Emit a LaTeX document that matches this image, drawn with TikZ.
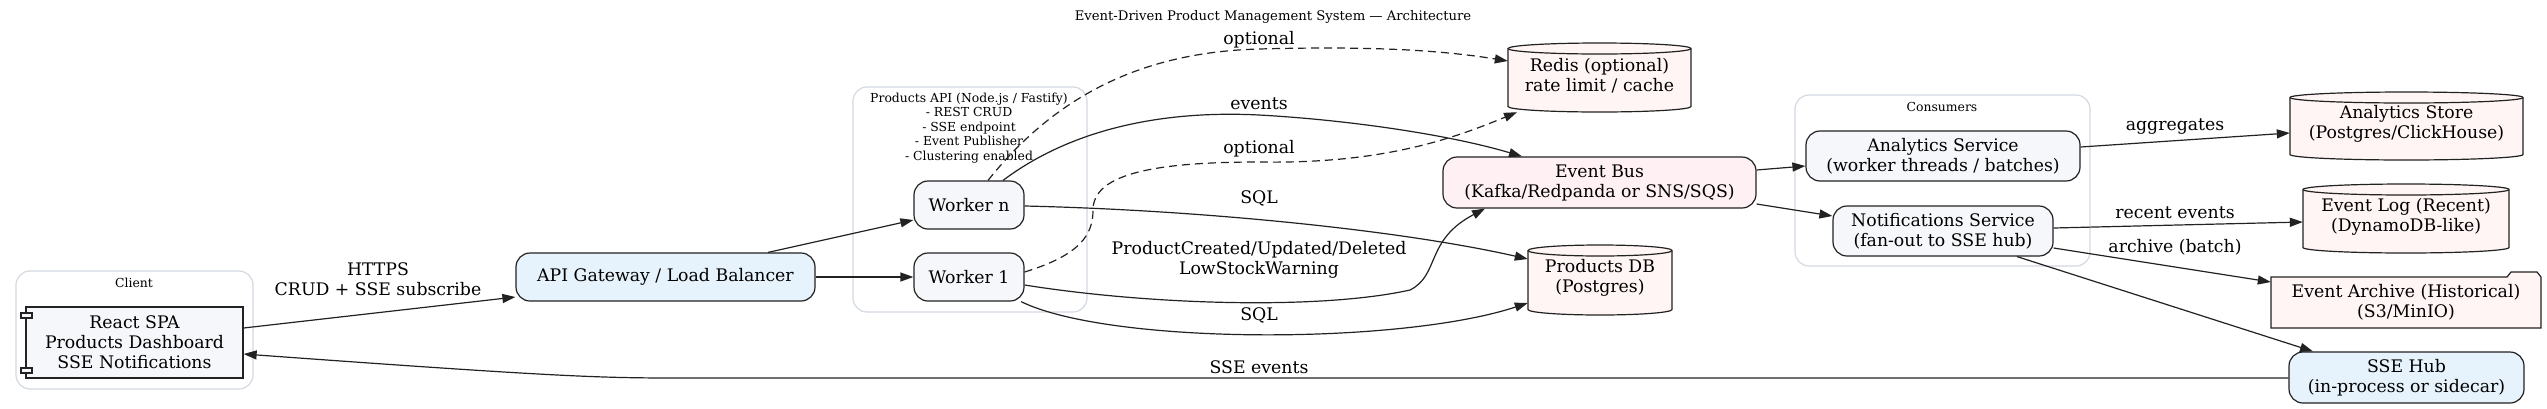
\documentclass[tikz,border=0pt]{standalone}
\usepackage{fontspec}
\setmainfont{DejaVu Serif}
\usetikzlibrary{arrows.meta}
\definecolor{bluefill}{HTML}{E7F3FC}
\definecolor{grayfill}{HTML}{F5F7FA}
\definecolor{busfill}{HTML}{FFF0F4}
\definecolor{dbfill}{HTML}{FFF5F4}
\definecolor{clusterc}{HTML}{D3DAE2}
\definecolor{linec}{HTML}{222222}
\newcommand{\dbnode}[6]{%
  \draw[dbshape] (#2-#4,#3+#5-5.5) -- (#2-#4,#3-#5+5.5) arc[start angle=180,end angle=360,x radius=#4,y radius=5.5] -- (#2+#4,#3+#5-5.5) arc[start angle=0,end angle=180,x radius=#4,y radius=5.5] -- cycle;
  \draw[dbline] (#2-#4,#3+#5-5.5) arc[start angle=180,end angle=360,x radius=#4,y radius=5.5];
  \node[base, minimum width=2*#4pt, minimum height=2*#5pt] (#1) at (#2,#3) {};
  \node[base] (#1t) at (#2,#3+2) {#6};
}
\begin{document}
\begin{tikzpicture}[x=1pt,y=1pt,
  base/.style={font=\fontsize{17.3}{20}\selectfont, align=center, inner sep=0pt, text=black},
  box/.style={base, draw=linec, line width=1.2pt, rounded corners=14pt},
  dbshape/.style={draw=linec, line width=1.2pt, fill=dbfill},
  dbline/.style={draw=linec, line width=1.2pt},
  cluster/.style={draw=clusterc, line width=1.2pt, rounded corners=14pt, inner sep=0pt},
  small/.style={font=\fontsize{12.4}{14.5}\selectfont, align=center, inner sep=0pt},
  lbl/.style={base},
  edge/.style={draw=linec, line width=1.2pt, -{Triangle[length=13pt,width=9pt]}},
  opt/.style={edge, dash pattern=on 8pt off 5pt}]
\useasboundingbox (0,0) rectangle (2547,-408);
\fill[white] (0,0) rectangle (2547,-408);

% title
\node[small, font=\fontsize{13.2}{14.5}\selectfont] (title) at (1273,-17) {Event-Driven Product Management System — Architecture};

% clusters
\node[cluster, minimum width=237pt, minimum height=118pt] (clientc) at (134.5,-330) {};
\node[small] (clientl) at (134,-283) {Client};
\node[cluster, minimum width=234pt, minimum height=225pt] (apic) at (970,-199.5) {};
\node[small] (apil) at (969,-128) {Products API (Node.js / Fastify)\\- REST CRUD\\- SSE endpoint\\- Event Publisher\\- Clustering enabled};
\node[cluster, minimum width=295pt, minimum height=171pt] (consc) at (1942.5,-180.5) {};
\node[small] (consl) at (1942,-107) {Consumers};

% client component
\node[base, draw=linec, line width=1.3pt, fill=grayfill, minimum width=217pt, minimum height=71pt] (spa) at (134.5,-342.5) {React SPA\\Products Dashboard\\SSE Notifications};
\draw[draw=linec, line width=1.2pt, fill=grayfill] (21,-313) rectangle (32,-318);
\draw[draw=linec, line width=1.2pt, fill=grayfill] (21,-368) rectangle (32,-373);

% gateway, workers
\node[box, fill=bluefill, minimum width=299pt, minimum height=48pt] (gw) at (665.5,-277) {API Gateway / Load Balancer};
\node[box, fill=grayfill, minimum width=110pt, minimum height=48pt] (wn) at (969,-205) {Worker n};
\node[box, fill=grayfill, minimum width=110pt, minimum height=48pt] (w1) at (969,-277) {Worker 1};

% stores
\dbnode{redis}{1599.5}{-77.5}{91.5}{34.5}{Redis (optional)\\rate limit / cache}
\node[box, fill=busfill, minimum width=313pt, minimum height=51pt] (bus) at (1599.5,-182.5) {Event Bus\\(Kafka/Redpanda or SNS/SQS)};
\dbnode{pdb}{1600}{-280}{72}{35}{Products DB\\(Postgres)}

% consumers
\node[box, fill=grayfill, minimum width=274pt, minimum height=50pt] (as) at (1943,-156) {Analytics Service\\(worker threads / batches)};
\node[box, fill=grayfill, minimum width=220pt, minimum height=50pt] (ns) at (1943,-231) {Notifications Service\\(fan-out to SSE hub)};

% right side
\dbnode{astore}{2406.5}{-126}{116.5}{34}{Analytics Store\\(Postgres/ClickHouse)}
\dbnode{elog}{2406}{-218.5}{103}{34.5}{Event Log (Recent)\\(DynamoDB-like)}
\draw[draw=linec, line width=1.2pt, fill=dbfill] (2271,-277) -- (2507,-277) -- (2511,-272) -- (2537,-272) -- (2541,-277) -- (2541,-328) -- (2271,-328) -- cycle;
\node[base, minimum width=270pt, minimum height=51pt] (arch) at (2406,-302.5) {Event Archive (Historical)\\(S3/MinIO)};
\node[box, fill=bluefill, minimum width=235pt, minimum height=51pt] (hub) at (2406.5,-377.5) {SSE Hub\\(in-process or sidecar)};

% edges
\draw[edge] ([yshift=14.5pt]spa.east) -- ([yshift=-20pt]gw.west);
\node[lbl] (lhttps) at (378,-279) {HTTPS\\CRUD + SSE subscribe};
\draw[edge] ([xshift=102.5pt]gw.north) -- ([yshift=-15pt]wn.west);
\draw[edge] (gw.east) -- (w1.west);

\draw[opt] ([xshift=19pt]wn.north) .. controls (1060,-90) and (1150,-52) .. (1259,-49) .. controls (1370,-46) and (1440,-50) .. ([yshift=16.5pt]redis.west);
\node[lbl] (lopt1) at (1259,-40) {optional};

\draw[edge] ([xshift=34pt]wn.north) .. controls (1070,-130) and (1160,-110) .. (1259,-115) .. controls (1350,-120) and (1450,-135) .. ([xshift=-77.5pt]bus.north);
\node[lbl] (levents) at (1259,-104) {events};

\draw[opt] ([yshift=5pt]w1.east) .. controls (1080,-255) and (1093,-235) .. (1093,-210) .. controls (1093,-175) and (1150,-162) .. (1259,-162) .. controls (1380,-164) and (1450,-140) .. ([xshift=-82.5pt]redis.south);
\node[lbl] (lopt2) at (1259,-149) {optional};

\draw[edge] ([yshift=-1pt]wn.east) .. controls (1200,-210) and (1400,-230) .. ([yshift=21pt]pdb.west);
\node[lbl] (lsql1) at (1259,-198) {SQL};

\draw[edge] ([yshift=-8pt]w1.east) .. controls (1150,-305) and (1320,-310) .. (1410,-290) .. controls (1440,-275) and (1425,-240) .. ([xshift=-114.5pt]bus.south);
\node[lbl] (lpc) at (1259,-259.5) {ProductCreated/Updated/Deleted\\LowStockWarning};

\draw[edge] ([xshift=52pt]w1.south) .. controls (1110,-345) and (1400,-345) .. ([yshift=-23pt]pdb.west);
\node[lbl] (lsql2) at (1259,-315) {SQL};

\draw[edge] ([yshift=12.5pt]bus.east) -- ([yshift=-10pt]as.west);
\draw[edge] ([yshift=-21.5pt]bus.east) -- ([yshift=15pt]ns.west);

\draw[edge] ([yshift=9pt]as.east) -- ([yshift=-7pt]astore.west);
\node[lbl] (lagg) at (2175,-127) {aggregates};
\draw[edge] ([yshift=3pt]ns.east) -- ([yshift=-3.5pt]elog.west);
\node[lbl] (lrec) at (2175,-213) {recent events};
\draw[edge] ([yshift=-17pt]ns.east) -- ([yshift=20.5pt]arch.west);
\node[lbl] (larch) at (2175,-247) {archive (batch)};
\draw[edge] ([xshift=74pt]ns.south) -- ([xshift=-93.5pt]hub.north);

\draw[edge] ([yshift=-0.5pt]hub.west) -- (680,-378) .. controls (600,-378) and (560,-377) .. ([yshift=-11.5pt]spa.east);
\node[lbl] (lsse) at (1259,-367) {SSE events};
\end{tikzpicture}
\end{document}
